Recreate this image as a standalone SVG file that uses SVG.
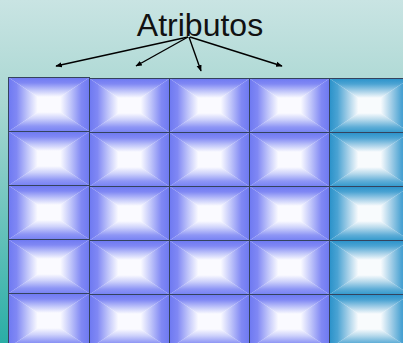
<svg xmlns="http://www.w3.org/2000/svg" xmlns:xlink="http://www.w3.org/1999/xlink" width="403" height="343" viewBox="0 0 403 343">
  <style>
    .title { font-family: "Liberation Sans", Arial, sans-serif; font-size: 32px; fill: #111; }
    .link { stroke: #000; stroke-width: 1.4; fill: none; marker-end: url(#head); }
    .cell { fill: none; stroke: #34435E; stroke-width: 1; }
  </style>
  <defs>
    <linearGradient id="bg" x1="0" y1="0" x2="0" y2="1">
      <stop offset="0" stop-color="#C9E4E3"/>
      <stop offset="0.3" stop-color="#A9D7D2"/>
      <stop offset="1" stop-color="#2AAEA6"/>
    </linearGradient>

    <!-- blue bevel gradients -->
    <linearGradient id="bT" x1="0" y1="0" x2="0" y2="1">
      <stop offset="0" stop-color="#6E79F2"/><stop offset="0.25" stop-color="#8088F4"/><stop offset="0.6" stop-color="#C3C8FA"/><stop offset="0.9" stop-color="#FAFAFF"/>
    </linearGradient>
    <linearGradient id="bB" x1="0" y1="1" x2="0" y2="0">
      <stop offset="0" stop-color="#7681F3"/><stop offset="0.25" stop-color="#8E96F5"/><stop offset="0.6" stop-color="#CED2FB"/><stop offset="0.9" stop-color="#FAFAFF"/>
    </linearGradient>
    <linearGradient id="bL" x1="0" y1="0" x2="1" y2="0">
      <stop offset="0" stop-color="#6E79F2"/><stop offset="0.25" stop-color="#8088F4"/><stop offset="0.6" stop-color="#C3C8FA"/><stop offset="0.9" stop-color="#FAFAFF"/>
    </linearGradient>
    <linearGradient id="bR" x1="1" y1="0" x2="0" y2="0">
      <stop offset="0" stop-color="#6E79F2"/><stop offset="0.25" stop-color="#8088F4"/><stop offset="0.6" stop-color="#C3C8FA"/><stop offset="0.9" stop-color="#FAFAFF"/>
    </linearGradient>

    <!-- teal bevel gradients -->
    <linearGradient id="tT" x1="0" y1="0" x2="0" y2="1">
      <stop offset="0" stop-color="#2A92CA"/><stop offset="0.25" stop-color="#4BA3D3"/><stop offset="0.6" stop-color="#AAD2E9"/><stop offset="0.9" stop-color="#F8FBFD"/>
    </linearGradient>
    <linearGradient id="tB" x1="0" y1="1" x2="0" y2="0">
      <stop offset="0" stop-color="#3399CC"/><stop offset="0.25" stop-color="#5EADD7"/><stop offset="0.6" stop-color="#B8DAEC"/><stop offset="0.9" stop-color="#F8FBFD"/>
    </linearGradient>
    <linearGradient id="tL" x1="0" y1="0" x2="1" y2="0">
      <stop offset="0" stop-color="#2A92CA"/><stop offset="0.25" stop-color="#4BA3D3"/><stop offset="0.6" stop-color="#AAD2E9"/><stop offset="0.9" stop-color="#F8FBFD"/>
    </linearGradient>
    <linearGradient id="tR" x1="1" y1="0" x2="0" y2="0">
      <stop offset="0" stop-color="#2A92CA"/><stop offset="0.25" stop-color="#4BA3D3"/><stop offset="0.6" stop-color="#AAD2E9"/><stop offset="0.9" stop-color="#F8FBFD"/>
    </linearGradient>

    <symbol id="cellBlue" viewBox="0 0 1 1" preserveAspectRatio="none">
      <rect width="1" height="1" fill="#FAFAFF"/>
      <polygon points="0,0 1,0 0.6,0.4 0.4,0.4" fill="url(#bT)"/>
      <polygon points="0,1 1,1 0.6,0.6 0.4,0.6" fill="url(#bB)"/>
      <polygon points="0,0 0.4,0.4 0.4,0.6 0,1" fill="url(#bL)"/>
      <polygon points="1,0 0.6,0.4 0.6,0.6 1,1" fill="url(#bR)"/>
    </symbol>
    <symbol id="cellTeal" viewBox="0 0 1 1" preserveAspectRatio="none">
      <rect width="1" height="1" fill="#F8FBFD"/>
      <polygon points="0,0 1,0 0.6,0.4 0.4,0.4" fill="url(#tT)"/>
      <polygon points="0,1 1,1 0.6,0.6 0.4,0.6" fill="url(#tB)"/>
      <polygon points="0,0 0.4,0.4 0.4,0.6 0,1" fill="url(#tL)"/>
      <polygon points="1,0 0.6,0.4 0.6,0.6 1,1" fill="url(#tR)"/>
    </symbol>

    <marker id="head" viewBox="0 0 10 10" refX="9" refY="5" markerWidth="6.5" markerHeight="6.5" orient="auto" markerUnits="userSpaceOnUse">
      <path d="M0,1 L10,5 L0,9 Z" fill="#000"/>
    </marker>
  </defs>

  <rect width="403" height="343" fill="url(#bg)"/>

  <!-- column 1 -->
  <g id="col1">
    <use id="c1r1" href="#cellBlue" x="8.5" y="77.5" width="81" height="54"/>
    <use id="c1r2" href="#cellBlue" x="8.5" y="131.5" width="81" height="54"/>
    <use id="c1r3" href="#cellBlue" x="8.5" y="185.5" width="81" height="54"/>
    <use id="c1r4" href="#cellBlue" x="8.5" y="239.5" width="81" height="54"/>
    <use id="c1r5" href="#cellBlue" x="8.5" y="293.5" width="81" height="54"/>
    <rect class="cell" x="8.5" y="77.5" width="81" height="54"/>
    <rect class="cell" x="8.5" y="131.5" width="81" height="54"/>
    <rect class="cell" x="8.5" y="185.5" width="81" height="54"/>
    <rect class="cell" x="8.5" y="239.5" width="81" height="54"/>
    <rect class="cell" x="8.5" y="293.5" width="81" height="54"/>
  </g>

  <!-- columns 2 to 4 -->
  <g id="col2">
    <use id="c2r1" href="#cellBlue" x="89.5" y="78.5" width="80" height="54"/>
    <use id="c2r2" href="#cellBlue" x="89.5" y="132.5" width="80" height="54"/>
    <use id="c2r3" href="#cellBlue" x="89.5" y="186.5" width="80" height="54"/>
    <use id="c2r4" href="#cellBlue" x="89.5" y="240.5" width="80" height="54"/>
    <use id="c2r5" href="#cellBlue" x="89.5" y="294.5" width="80" height="54"/>
  </g>
  <g id="col3">
    <use id="c3r1" href="#cellBlue" x="169.5" y="78.5" width="80" height="54"/>
    <use id="c3r2" href="#cellBlue" x="169.5" y="132.5" width="80" height="54"/>
    <use id="c3r3" href="#cellBlue" x="169.5" y="186.5" width="80" height="54"/>
    <use id="c3r4" href="#cellBlue" x="169.5" y="240.5" width="80" height="54"/>
    <use id="c3r5" href="#cellBlue" x="169.5" y="294.5" width="80" height="54"/>
  </g>
  <g id="col4">
    <use id="c4r1" href="#cellBlue" x="249.5" y="78.5" width="80" height="54"/>
    <use id="c4r2" href="#cellBlue" x="249.5" y="132.5" width="80" height="54"/>
    <use id="c4r3" href="#cellBlue" x="249.5" y="186.5" width="80" height="54"/>
    <use id="c4r4" href="#cellBlue" x="249.5" y="240.5" width="80" height="54"/>
    <use id="c4r5" href="#cellBlue" x="249.5" y="294.5" width="80" height="54"/>
  </g>
  <!-- column 5 (teal) -->
  <g id="col5">
    <use id="c5r1" href="#cellTeal" x="329.5" y="78.5" width="80" height="54"/>
    <use id="c5r2" href="#cellTeal" x="329.5" y="132.5" width="80" height="54"/>
    <use id="c5r3" href="#cellTeal" x="329.5" y="186.5" width="80" height="54"/>
    <use id="c5r4" href="#cellTeal" x="329.5" y="240.5" width="80" height="54"/>
    <use id="c5r5" href="#cellTeal" x="329.5" y="294.5" width="80" height="54"/>
  </g>

  <!-- grid lines for columns 2 to 5 -->
  <g id="grid" class="cell">
    <path d="M89.5,78.5 H410 M89.5,132.5 H410 M89.5,186.5 H410 M89.5,240.5 H410 M89.5,294.5 H410"/>
    <path d="M89.5,78.5 V343 M169.5,78.5 V343 M249.5,78.5 V343 M329.5,78.5 V343"/>
  </g>

  <g id="label">
    <text class="title" x="200" y="36" text-anchor="middle">Atributos</text>
  </g>

  <g id="connectors">
    <line class="link" x1="188" y1="37" x2="56" y2="66"/>
    <line class="link" x1="188" y1="37" x2="136" y2="66"/>
    <line class="link" x1="189" y1="37" x2="201" y2="71"/>
    <line class="link" x1="190" y1="37" x2="282" y2="66"/>
  </g>
</svg>
